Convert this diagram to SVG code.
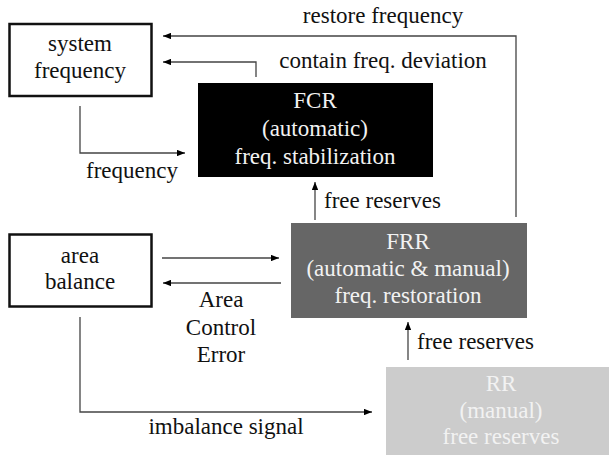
<svg xmlns="http://www.w3.org/2000/svg" width="609" height="457" viewBox="0 0 609 457">
  <style>
    text { font-family: 'Liberation Serif', 'DejaVu Serif', 'Times New Roman', serif; font-size: 23px; text-anchor: middle; }
    .lbl { fill: #111; }
    .inv { fill: #f2f2f2; }
    .frame { fill: #fff; stroke: #111; stroke-width: 2.5; }
    .wire { fill: none; stroke: #444; stroke-width: 1.3; }
  </style>
  <defs>
    <marker id="arrow" viewBox="0 0 10 8" refX="10" refY="4" markerWidth="8" markerHeight="6.4" markerUnits="userSpaceOnUse" orient="auto">
      <path d="M0,0 L10,4 L0,8 z" fill="#000"/>
    </marker>
  </defs>
  <rect width="609" height="457" fill="#fff"/>

  <g id="connectors">
    <!-- restore frequency: FRR back to system frequency -->
    <path class="wire" d="M516,217 V36 H163" marker-end="url(#arrow)"/>
    <!-- contain freq. deviation: FCR back to system frequency -->
    <path class="wire" d="M256,77 V62 H163" marker-end="url(#arrow)"/>
    <!-- frequency signal into FCR -->
    <path class="wire" d="M80,106 V153 H185" marker-end="url(#arrow)"/>
    <!-- free reserves FRR -> FCR -->
    <path class="wire" d="M315,220 V182" marker-end="url(#arrow)"/>
    <!-- area balance -> FRR -->
    <path class="wire" d="M162,258 H279" marker-end="url(#arrow)"/>
    <!-- ACE FRR -> area balance -->
    <path class="wire" d="M281,283 H163" marker-end="url(#arrow)"/>
    <!-- free reserves RR -> FRR -->
    <path class="wire" d="M408,360 V322" marker-end="url(#arrow)"/>
    <!-- imbalance signal -> RR -->
    <path class="wire" d="M80,317 V412 H372" marker-end="url(#arrow)"/>

    <text class="lbl" x="383" y="23">restore frequency</text>
    <text class="lbl" x="383" y="68">contain freq. deviation</text>
    <text class="lbl" x="132" y="178">frequency</text>
    <text class="lbl" x="324" y="208" style="text-anchor:start">free reserves</text>
    <text class="lbl" x="221" y="307">Area</text>
    <text class="lbl" x="221" y="335">Control</text>
    <text class="lbl" x="221" y="362">Error</text>
    <text class="lbl" x="417" y="349" style="text-anchor:start">free reserves</text>
    <text class="lbl" x="226" y="434">imbalance signal</text>
  </g>

  <g id="system-frequency">
    <rect class="frame" x="9.5" y="24" width="142" height="72"/>
    <text class="lbl" x="80" y="51">system</text>
    <text class="lbl" x="80" y="78">frequency</text>
  </g>

  <g id="fcr">
    <rect x="198" y="83" width="235" height="94" fill="#000"/>
    <text class="inv" x="315" y="108">FCR</text>
    <text class="inv" x="315" y="136">(automatic)</text>
    <text class="inv" x="315" y="164">freq. stabilization</text>
  </g>

  <g id="area-balance">
    <rect class="frame" x="9.5" y="234.5" width="142" height="72"/>
    <text class="lbl" x="80" y="263">area</text>
    <text class="lbl" x="80" y="289">balance</text>
  </g>

  <g id="frr">
    <rect x="291" y="223" width="236" height="95" fill="#666"/>
    <text class="inv" x="408" y="249">FRR</text>
    <text class="inv" x="408" y="276">(automatic &amp; manual)</text>
    <text class="inv" x="408" y="303">freq. restoration</text>
  </g>

  <g id="rr">
    <rect x="386" y="367" width="223" height="88" fill="#cccccc"/>
    <text class="inv" x="501" y="391">RR</text>
    <text class="inv" x="501" y="418">(manual)</text>
    <text class="inv" x="501" y="444">free reserves</text>
  </g>
</svg>
